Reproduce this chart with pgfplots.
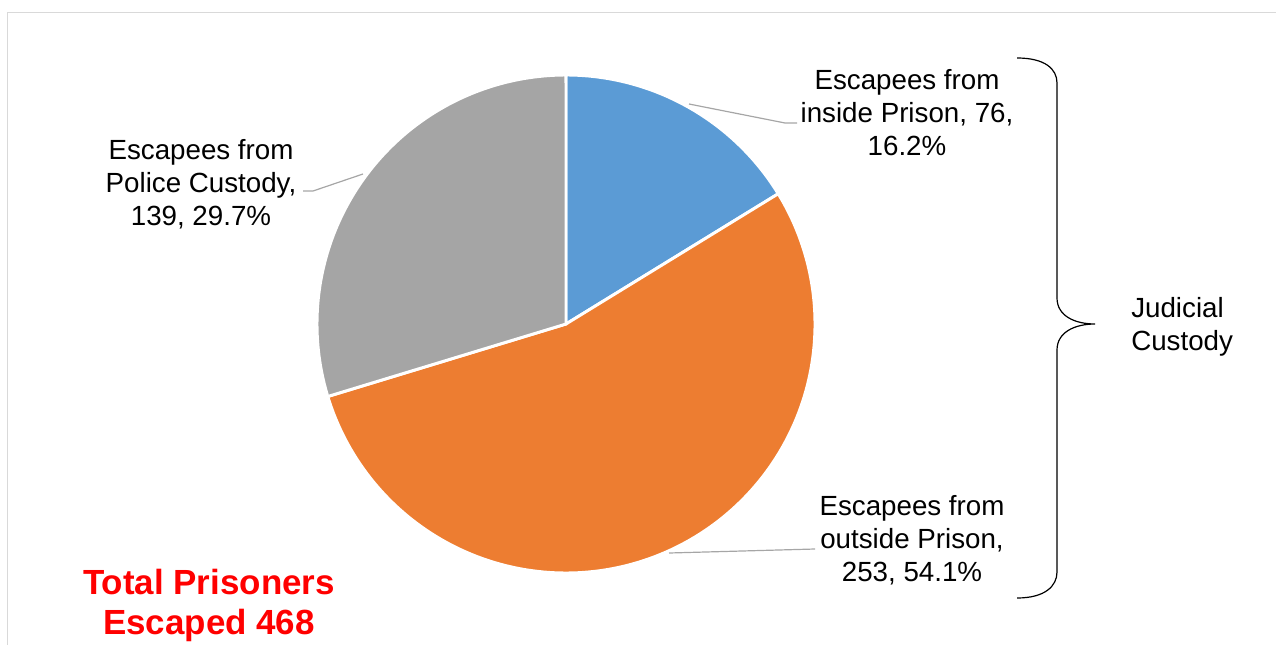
\documentclass[border=0pt]{standalone}
\usepackage{pgfplots}
\pgfplotsset{compat=1.18}
\usepackage{pgfplotstable}
\usepackage{fontspec}
\setmainfont{Liberation Sans}
\definecolor{pieblue}{HTML}{5B9BD5}
\definecolor{pieorange}{HTML}{ED7D31}
\definecolor{piegray}{HTML}{A5A5A5}
\definecolor{leader}{HTML}{A6A6A6}
\definecolor{frame}{HTML}{D9D9D9}
\pgfplotstableread{
label value
inside 76
outside 253
police 139
}\datatable
\begin{document}
\begin{tikzpicture}
\pgfplotstablegetelem{0}{value}\of\datatable \let\vA\pgfplotsretval
\pgfplotstablegetelem{1}{value}\of\datatable \let\vB\pgfplotsretval
\pgfplotstablegetelem{2}{value}\of\datatable \let\vC\pgfplotsretval
\pgfmathsetmacro{\tot}{\vA+\vB+\vC}
\pgfmathsetmacro{\aZero}{90}
\pgfmathsetmacro{\aOne}{90-360*(\vA/\tot)}
\pgfmathsetmacro{\aTwo}{\aOne-360*(\vB/\tot)}
\pgfmathsetmacro{\aThree}{\aTwo-360*(\vC/\tot)}
\begin{axis}[
  scale only axis, width=957pt, height=483pt,
  xmin=0, xmax=1276, ymin=0, ymax=644,
  hide axis, clip=true,
]
\coordinate (SW) at (rel axis cs:0,0);
\coordinate (NE) at (rel axis cs:1,1);
% frame
\draw[frame, line width=1pt] (7.5,-20) -- (7.5,631.5) -- (1300,631.5);
% slices
\addplot[fill=pieblue, draw=white, line width=2.2pt, domain=\aOne:\aZero, samples=80, variable=\t]
  ({566+249*cos(\t)}, {320+249*sin(\t)}) -- (566,320) -- cycle;
\addplot[fill=pieorange, draw=white, line width=2.2pt, domain=\aTwo:\aOne, samples=150, variable=\t]
  ({566+249*cos(\t)}, {320+249*sin(\t)}) -- (566,320) -- cycle;
\addplot[fill=piegray, draw=white, line width=2.2pt, domain=\aThree:\aTwo, samples=100, variable=\t]
  ({566+249*cos(\t)}, {320+249*sin(\t)}) -- (566,320) -- cycle;
% leader lines
\draw[leader, line width=0.9pt] (689,540) -- (785,521) -- (797,521);
\draw[leader, line width=0.9pt] (363,470) -- (313,453) -- (303,453);
\draw[leader, line width=0.9pt] (669,91) -- (815,95);
% brace
\draw[black, line width=0.9pt] (1017,586) .. controls (1045,586) and (1057,575) .. (1057,561)
  -- (1057,346) .. controls (1057,328) and (1075,320) .. (1095,320)
  .. controls (1075,320) and (1057,312) .. (1057,294)
  -- (1057,72) .. controls (1057,58) and (1045,46) .. (1017,46);
% labels
\node[align=center, font=\fontsize{20.8}{24.75}\selectfont, inner sep=0pt] at (907,531)
  {Escapees from\\inside Prison, 76,\\16.2\%};
\node[align=center, font=\fontsize{20.8}{24.75}\selectfont, inner sep=0pt] at (201,460)
  {Escapees from\\Police Custody,\\139, 29.7\%};
\node[align=center, font=\fontsize{20.8}{24.75}\selectfont, inner sep=0pt] at (912,104)
  {Escapees from\\outside Prison,\\253, 54.1\%};
\node[align=left, anchor=west, font=\fontsize{20.8}{24.75}\selectfont, inner sep=0pt] at (1131,317)
  {Judicial\\Custody};
\node[align=center, font=\bfseries\fontsize{26.2}{30}\selectfont, text=red, inner sep=0pt] at (209,38.5)
  {Total Prisoners\\Escaped 468};
\end{axis}
\pgfresetboundingbox
\useasboundingbox (SW) rectangle (NE);
\end{tikzpicture}
\end{document}
